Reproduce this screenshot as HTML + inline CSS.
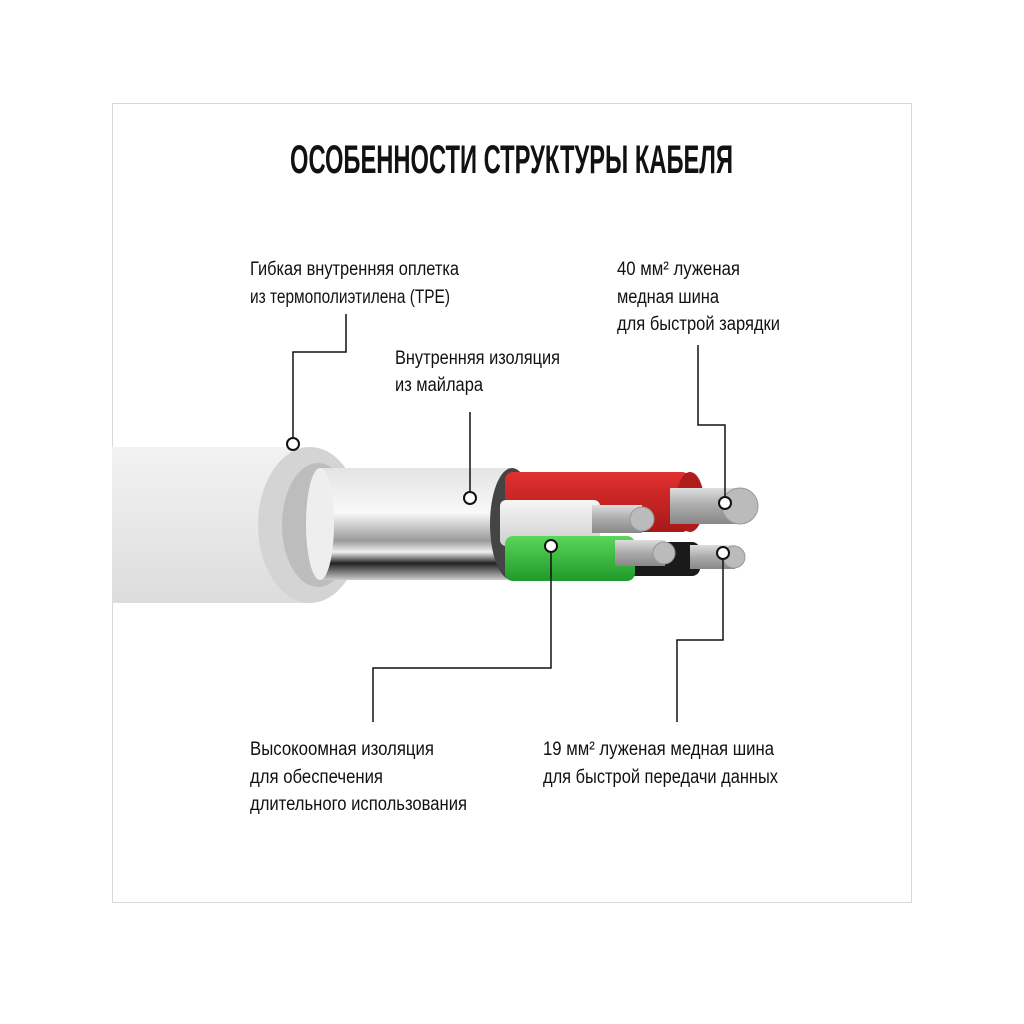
<!DOCTYPE html>
<html><head><meta charset="utf-8"><style>
html,body{margin:0;padding:0;background:#fff;}
svg{display:block;}
text{font-family:"Liberation Sans",sans-serif;fill:#111;}
.l{font-size:19px;}
</style></head><body>
<svg width="1024" height="1024" viewBox="0 0 1024 1024" xmlns="http://www.w3.org/2000/svg">
<defs>
<linearGradient id="jk" x1="0" y1="0" x2="0" y2="1">
<stop offset="0" stop-color="#f2f2f2"/><stop offset="0.5" stop-color="#e8e8e8"/><stop offset="1" stop-color="#dcdcdc"/></linearGradient>
<linearGradient id="foil" x1="0" y1="0" x2="0" y2="1">
<stop offset="0" stop-color="#e4e4e4"/><stop offset="0.4" stop-color="#f8f8f8"/><stop offset="0.65" stop-color="#9a9a9a"/><stop offset="0.75" stop-color="#f0f0f0"/><stop offset="0.85" stop-color="#222"/><stop offset="1" stop-color="#ccc"/></linearGradient>
<linearGradient id="red" x1="0" y1="0" x2="0" y2="1"><stop offset="0" stop-color="#e23030"/><stop offset="1" stop-color="#a81818"/></linearGradient>
<linearGradient id="grn" x1="0" y1="0" x2="0" y2="1"><stop offset="0" stop-color="#5ad65a"/><stop offset="1" stop-color="#1f9a2a"/></linearGradient>
<linearGradient id="wht" x1="0" y1="0" x2="0" y2="1"><stop offset="0" stop-color="#f6f6f6"/><stop offset="1" stop-color="#cfcfcf"/></linearGradient>
<linearGradient id="st" x1="0" y1="0" x2="0" y2="1"><stop offset="0" stop-color="#ddd"/><stop offset="0.5" stop-color="#aaa"/><stop offset="1" stop-color="#888"/></linearGradient>
</defs>
<rect x="112.5" y="103.5" width="799" height="799" fill="#fff" stroke="#d8d8d8"/>
<text x="290" y="173" font-size="40" font-weight="bold" textLength="443" lengthAdjust="spacingAndGlyphs">ОСОБЕННОСТИ СТРУКТУРЫ КАБЕЛЯ</text>

<rect x="112" y="447" width="200" height="156" fill="url(#jk)"/>
<ellipse cx="310" cy="525" rx="52" ry="78" fill="#d4d4d4"/>
<ellipse cx="318" cy="525" rx="36" ry="62" fill="#bdbdbd"/>
<rect x="320" y="468" width="190" height="112" fill="url(#foil)"/>
<ellipse cx="320" cy="524" rx="14" ry="56" fill="#eee"/>
<ellipse cx="512" cy="524" rx="22" ry="56" fill="#444"/>
<rect x="505" y="472" width="185" height="60" rx="8" fill="url(#red)"/>
<ellipse cx="690" cy="502" rx="14" ry="30" fill="#b01c1c"/>
<rect x="670" y="488" width="70" height="36" fill="url(#st)"/>
<circle cx="740" cy="506" r="18" fill="#bbb" stroke="#999"/>
<rect x="610" y="542" width="90" height="34" rx="8" fill="#1a1a1a"/>
<rect x="690" y="545" width="45" height="24" fill="url(#st)"/>
<circle cx="734" cy="557" r="11" fill="#bbb" stroke="#999"/>
<rect x="500" y="500" width="100" height="46" rx="6" fill="url(#wht)"/>
<rect x="592" y="505" width="50" height="28" fill="url(#st)"/>
<circle cx="642" cy="519" r="12" fill="#bbb" stroke="#999"/>
<rect x="505" y="536" width="130" height="45" rx="8" fill="url(#grn)"/>
<rect x="615" y="540" width="50" height="26" fill="url(#st)"/>
<circle cx="664" cy="553" r="11" fill="#bbb" stroke="#999"/>

<g fill="none" stroke="#111" stroke-width="1.5">
<polyline points="346,314 346,352 293,352 293,437"/>
<line x1="470" y1="412" x2="470" y2="491"/>
<polyline points="698,345 698,425 725,425 725,496"/>
<polyline points="551,553 551,668 373,668 373,722"/>
<polyline points="723,560 723,640 677,640 677,722"/>
</g>
<g fill="#fff" stroke="#111" stroke-width="2">
<circle cx="293" cy="444" r="6"/><circle cx="470" cy="498" r="6"/><circle cx="725" cy="503" r="6"/>
<circle cx="551" cy="546" r="6"/><circle cx="723" cy="553" r="6"/>
</g>

<text class="l" x="250" y="275" textLength="209" lengthAdjust="spacingAndGlyphs">Гибкая внутренняя оплетка</text>
<text class="l" x="250" y="303" textLength="200" lengthAdjust="spacingAndGlyphs">из термополиэтилена (TPE)</text>
<text class="l" x="395" y="364" textLength="165" lengthAdjust="spacingAndGlyphs">Внутренняя изоляция</text>
<text class="l" x="395" y="391" textLength="88" lengthAdjust="spacingAndGlyphs">из майлара</text>
<text class="l" x="617" y="275" textLength="123" lengthAdjust="spacingAndGlyphs">40 мм² луженая</text>
<text class="l" x="617" y="303" textLength="102" lengthAdjust="spacingAndGlyphs">медная шина</text>
<text class="l" x="617" y="330" textLength="163" lengthAdjust="spacingAndGlyphs">для быстрой зарядки</text>
<text class="l" x="250" y="755" textLength="184" lengthAdjust="spacingAndGlyphs">Высокоомная изоляция</text>
<text class="l" x="250" y="783" textLength="133" lengthAdjust="spacingAndGlyphs">для обеспечения</text>
<text class="l" x="250" y="810" textLength="217" lengthAdjust="spacingAndGlyphs">длительного использования</text>
<text class="l" x="543" y="755" textLength="231" lengthAdjust="spacingAndGlyphs">19 мм² луженая медная шина</text>
<text class="l" x="543" y="783" textLength="235" lengthAdjust="spacingAndGlyphs">для быстрой передачи данных</text>
</svg>
</body></html>
